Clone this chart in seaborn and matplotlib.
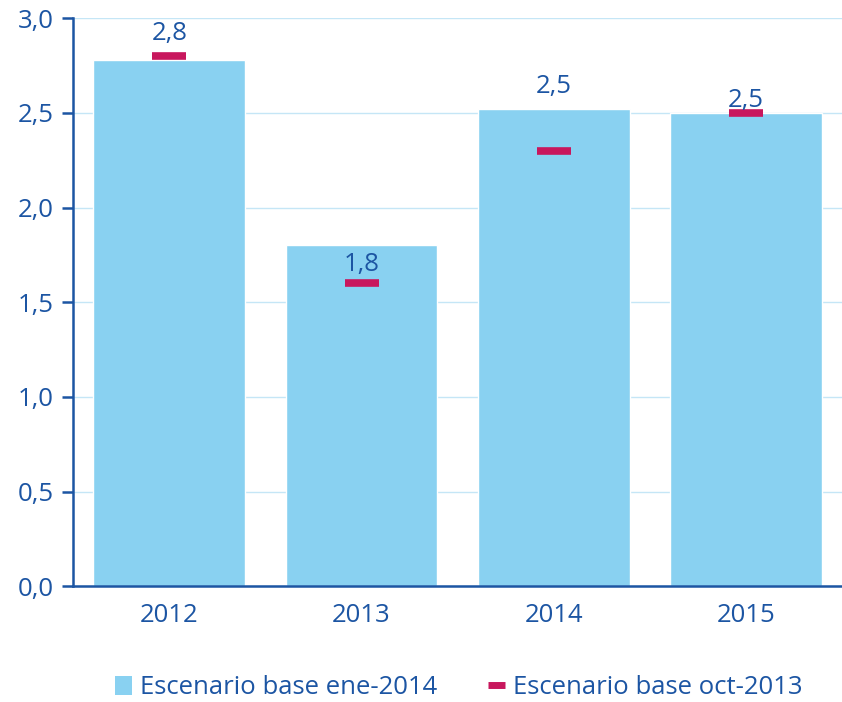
import matplotlib
matplotlib.use("Agg")
import matplotlib.pyplot as plt
from matplotlib.patches import Patch
from matplotlib.lines import Line2D
import seaborn as sns
import pandas as pd

sns.set_style("white")
plt.rcParams["font.family"] = ["Open Sans", "DejaVu Sans"]

years = ["2012", "2013", "2014", "2015"]
base_ene_2014 = [2.78, 1.80, 2.52, 2.50]
base_oct_2013 = [2.80, 1.60, 2.30, 2.50]
value_labels = ["2,8", "1,8", "2,5", "2,5"]
label_offsets = [0.14, -0.10, 0.12, 0.065]

text_col = "#1c55a3"
bar_col = "#89d1f1"
mark_col = "#c8175d"
grid_col = "#c5e6f6"
fs = 18.5

df = pd.DataFrame({"year": years, "ene": base_ene_2014, "oct": base_oct_2013})

fig = plt.figure(figsize=(8.42, 7.02), dpi=100)
ax = fig.add_axes([0.087, 0.165, 0.913, 0.809])

sns.barplot(data=df, x="year", y="ene", color=bar_col, saturation=1,
            width=0.79, ax=ax, zorder=2)
ax.plot(range(len(years)), df["oct"], ls="none", marker="_", ms=25, mew=5.5,
        color=mark_col, zorder=3)

for i, (v, lab, off) in enumerate(zip(base_ene_2014, value_labels, label_offsets)):
    ax.text(i, v + off, lab, ha="center", va="center", fontsize=fs,
            color=text_col, zorder=4)

ax.set_ylim(0, 3.0)
ax.set_xlim(-0.5, 3.5)
ax.set_yticks([0, 0.5, 1.0, 1.5, 2.0, 2.5, 3.0])
ax.set_yticklabels([f"{t:.1f}".replace(".", ",") for t in ax.get_yticks()])
ax.yaxis.grid(True, color=grid_col, lw=1, zorder=0)
ax.set_axisbelow(True)
ax.set_xlabel("")
ax.set_ylabel("")

ax.set_xticks([-0.5, 0.5, 1.5, 2.5, 3.5], minor=True)
ax.tick_params(axis="x", which="major", length=0, pad=12, labelsize=fs,
               labelcolor=text_col)
ax.tick_params(axis="x", which="minor", length=8, width=1.8, color=text_col)
ax.tick_params(axis="y", length=8, width=1.8, color=text_col, labelsize=fs,
               labelcolor=text_col, pad=6, left=True)

sns.despine(ax=ax)
for s in ["left", "bottom"]:
    ax.spines[s].set_color(text_col)
    ax.spines[s].set_linewidth(1.8)

handles = [
    Patch(facecolor=bar_col, edgecolor="none"),
    Line2D([0], [0], color=mark_col, lw=5, solid_capstyle="butt"),
]
fig.legend(handles, ["Escenario base ene-2014", "Escenario base oct-2013"],
           loc="center", bbox_to_anchor=(0.545, 0.02), ncol=2, frameon=False,
           fontsize=fs, labelcolor=text_col, handlelength=0.65,
           handleheight=0.8, handletextpad=0.3, columnspacing=2.0)

fig.savefig("out.png", dpi=100)
